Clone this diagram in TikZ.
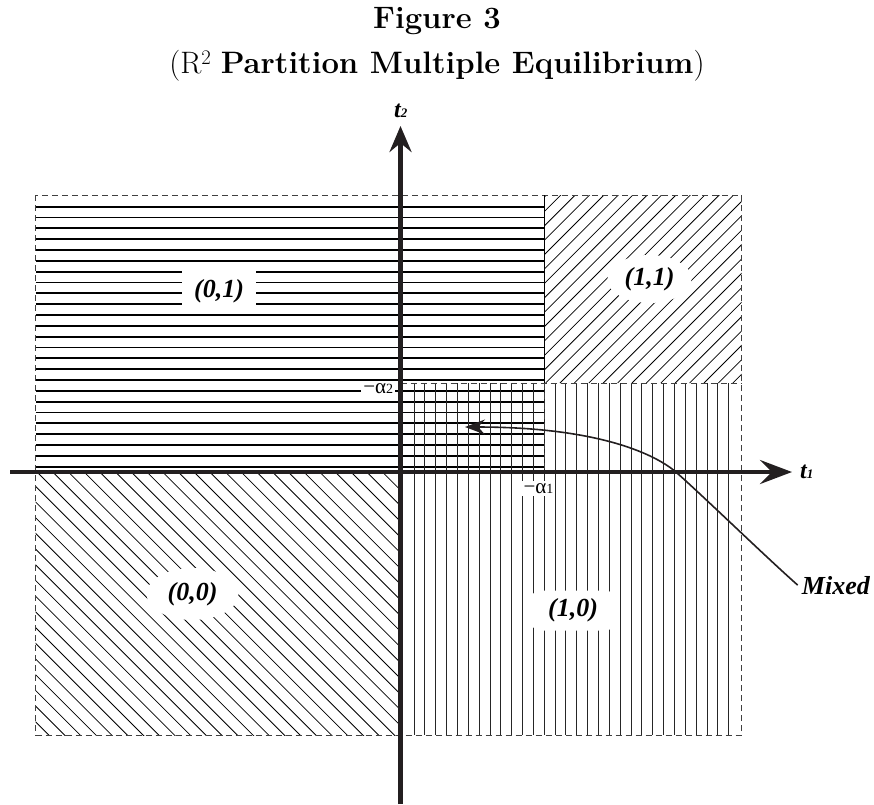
\documentclass[tikz,border=0pt]{standalone}
\usepackage{fontspec}
\newfontfamily\tnr{Liberation Serif}
\usetikzlibrary{arrows.meta,shapes.geometric}
\definecolor{ink}{RGB}{35,31,32}
\begin{document}
\begin{tikzpicture}[x=1pt,y=-1pt,
  titlefont/.style={font=\fontsize{31}{31}\selectfont, inner sep=0pt},
  axisline/.style={line width=4.5pt, draw=ink},
  hatchh/.style={line width=1.9pt, draw=black},
  hatchv/.style={line width=0.9pt, draw=black!85},
  hatchd/.style={line width=0.8pt, draw=black},
  border/.style={line width=1pt, dash pattern=on 6pt off 4pt, draw=black!75},
  regionbox/.style={font=\fontsize{26}{26}\selectfont\tnr\bfseries\itshape, fill=white, inner sep=0pt},
  axlab/.style={font=\fontsize{24}{24}\selectfont\tnr\bfseries\itshape, inner sep=0pt},
  mixlab/.style={font=\fontsize{26}{26}\selectfont\tnr\bfseries\itshape, inner sep=0pt},
  alphalab/.style={font=\fontsize{21}{21}\selectfont\tnr, fill=white, inner sep=2pt},
  mixarrow/.style={line width=1.6pt, draw=ink, -{Stealth[length=20pt,width=15pt,inset=7pt]}}
]
\useasboundingbox (0,0) rectangle (874,804);

% titles
\node[titlefont, anchor=base] (title) at (437,28.3) {\textbf{Figure 3}};
\node[titlefont, anchor=base] (subtitle) at (437,73.3) {(R$^2$ \textbf{Partition Multiple Equilibrium})};

% horizontal hatching (0,1) and mixed
\foreach \k in {0,...,24}
  \draw[hatchh] (35.5,{206.7+10.83*\k}) -- (544,{206.7+10.83*\k});

% vertical hatching (1,0) and mixed
\foreach \k in {0,...,29}
  \draw[hatchv] ({414+10.85*\k},383) -- ({414+10.85*\k},735);

% diagonal hatching (1,1)
\begin{scope}
  \clip (544,195) rectangle (741.5,383);
  \foreach \k in {-14,...,14}
    \draw[hatchd] ({545.6+14.4*\k},383) -- ++(200,-200);
\end{scope}

% diagonal hatching (0,0)
\begin{scope}
  \clip (35.5,472) rectangle (400.5,735);
  \foreach \k in {-18,...,24}
    \draw[hatchd] ({37+15.7*\k},472) -- ++(300,300);
\end{scope}

% borders
\draw[border] (35.5,195) rectangle (741.5,735);
\draw[border] (400.5,383) -- (741.5,383);
\draw[border] (544,383) -- (544,472);
\draw[line width=1pt] (544,195) -- (544,383);

% region labels
\node[regionbox, rectangle, minimum width=74pt, minimum height=45pt] (l01) at (219,291) {(0,1)};
\node[regionbox, ellipse, minimum width=84pt, minimum height=48pt] (l11) at (649.5,279) {(1,1)};
\node[regionbox, ellipse, minimum width=92pt, minimum height=52pt] (l00) at (192.5,594) {(0,0)};
\node[regionbox, rectangle, rounded corners=12pt, minimum width=88pt, minimum height=40pt] (l10) at (573,610.5) {(1,0)};

% alpha labels
\node[alphalab, anchor=base east] (a2) at (395.3,393.3) {−α{\fontsize{14}{14}\selectfont 2}};
\node[alphalab, anchor=base west] (a1) at (521.3,493.3) {−α{\fontsize{14}{14}\selectfont 1}};

% axes
\coordinate (xl) at (10,472);
\coordinate (xr) at (792,472);
\coordinate (yb) at (400.5,804);
\coordinate (yt) at (400.5,126);
\draw[axisline, -{Stealth[length=32pt,width=24pt,inset=12pt]}] (xl) -- (xr);
\draw[axisline, -{Stealth[length=26pt,width=22pt,inset=9pt]}] (yb) -- (yt);

\node[axlab, anchor=base west] (t1) at (800,478) {t{\fontsize{13}{13}\selectfont 1}};
\node[axlab, anchor=base west] (t2) at (394,117) {t{\fontsize{13}{13}\selectfont 2}};

% mixed
\node[mixlab, anchor=base west] (mixed) at (801.7,594) {Mixed};
\coordinate (mixbend) at (677,473);
\coordinate (mixtip) at (465,427);
\draw[mixarrow] ([xshift=-4pt]mixed.west) .. controls (767,558) and (702,495) .. (mixbend)
  .. controls (657,455) and (600,427) .. (mixtip);
\end{tikzpicture}
\end{document}
